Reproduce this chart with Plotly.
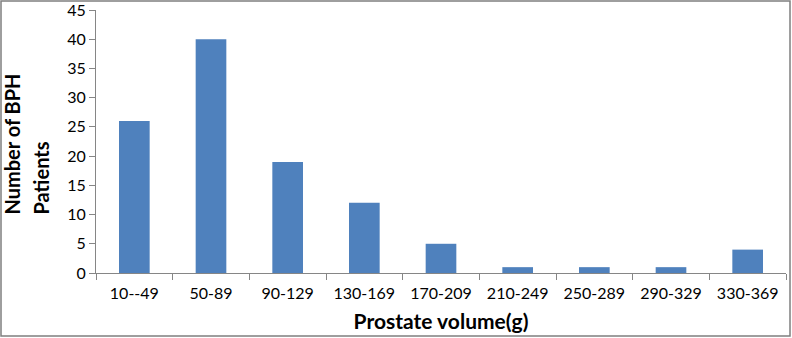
import plotly.graph_objects as go

categories = ["10--49", "50-89", "90-129", "130-169", "170-209", "210-249", "250-289", "290-329", "330-369"]
patients = [26, 40, 19, 12, 5, 1, 1, 1, 4]
y_ticks = [0, 5, 10, 15, 20, 25, 30, 35, 40, 45]
x_title = "Prostate volume(g)"
y_title_lines = ["Number of BPH", "Patients"]

W, H = 792, 338
L, R, T, B = 96, 6, 10, 65
pw, ph = W - L - R, H - T - B
FONT = "Lato, Liberation Sans, Arial, sans-serif"

fig = go.Figure(go.Bar(x=categories, y=patients, marker=dict(color="#4F81BD", line=dict(width=0)),
                       width=0.4))

annotations = []
for i, (line, xc) in enumerate(zip(y_title_lines, [11, 40])):
    annotations.append(dict(
        text="<b>%s</b>" % line, textangle=-90, showarrow=False,
        xref="paper", yref="paper", x=(xc - L) / pw, y=(H - B - 217) / ph,
        xanchor="center", yanchor="bottom", font=dict(size=20, family=FONT, color="#000000"),
    ))

fig.update_layout(
    template="none",
    width=W, height=H,
    margin=dict(l=L, r=R, t=T, b=B, autoexpand=False),
    paper_bgcolor="white", plot_bgcolor="white",
    font=dict(family=FONT, size=16, color="#000000"),
    showlegend=False,
    xaxis=dict(
        automargin=False,
        showline=True, linecolor="#868686", linewidth=1,
        ticks="outside", tickcolor="#868686", ticklen=6, tickson="boundaries",
        showgrid=False, tickfont=dict(size=16), ticklabelstandoff=6,
        title=dict(text="<b>%s</b>" % x_title, font=dict(size=21), standoff=13),
    ),
    yaxis=dict(
        automargin=False, ticklabeloverflow="allow",
        range=[0, 45], tickvals=y_ticks,
        showline=True, linecolor="#868686", linewidth=1,
        ticks="outside", tickcolor="#868686", ticklen=6,
        showgrid=False, zeroline=False, tickfont=dict(size=16),
    ),
    annotations=annotations,
    shapes=[dict(type="rect", xref="paper", yref="paper",
                 x0=-(L - 1) / pw, x1=1 + (R - 2) / pw,
                 y0=-(B - 2) / ph, y1=1 + (T - 1) / ph,
                 line=dict(color="#7f7f7f", width=1.5), fillcolor="rgba(0,0,0,0)", layer="below")],
)

fig.write_html("out.html", config={"displayModeBar": False},
               post_script="document.body.style.margin='0px';document.body.style.padding='0px';")
